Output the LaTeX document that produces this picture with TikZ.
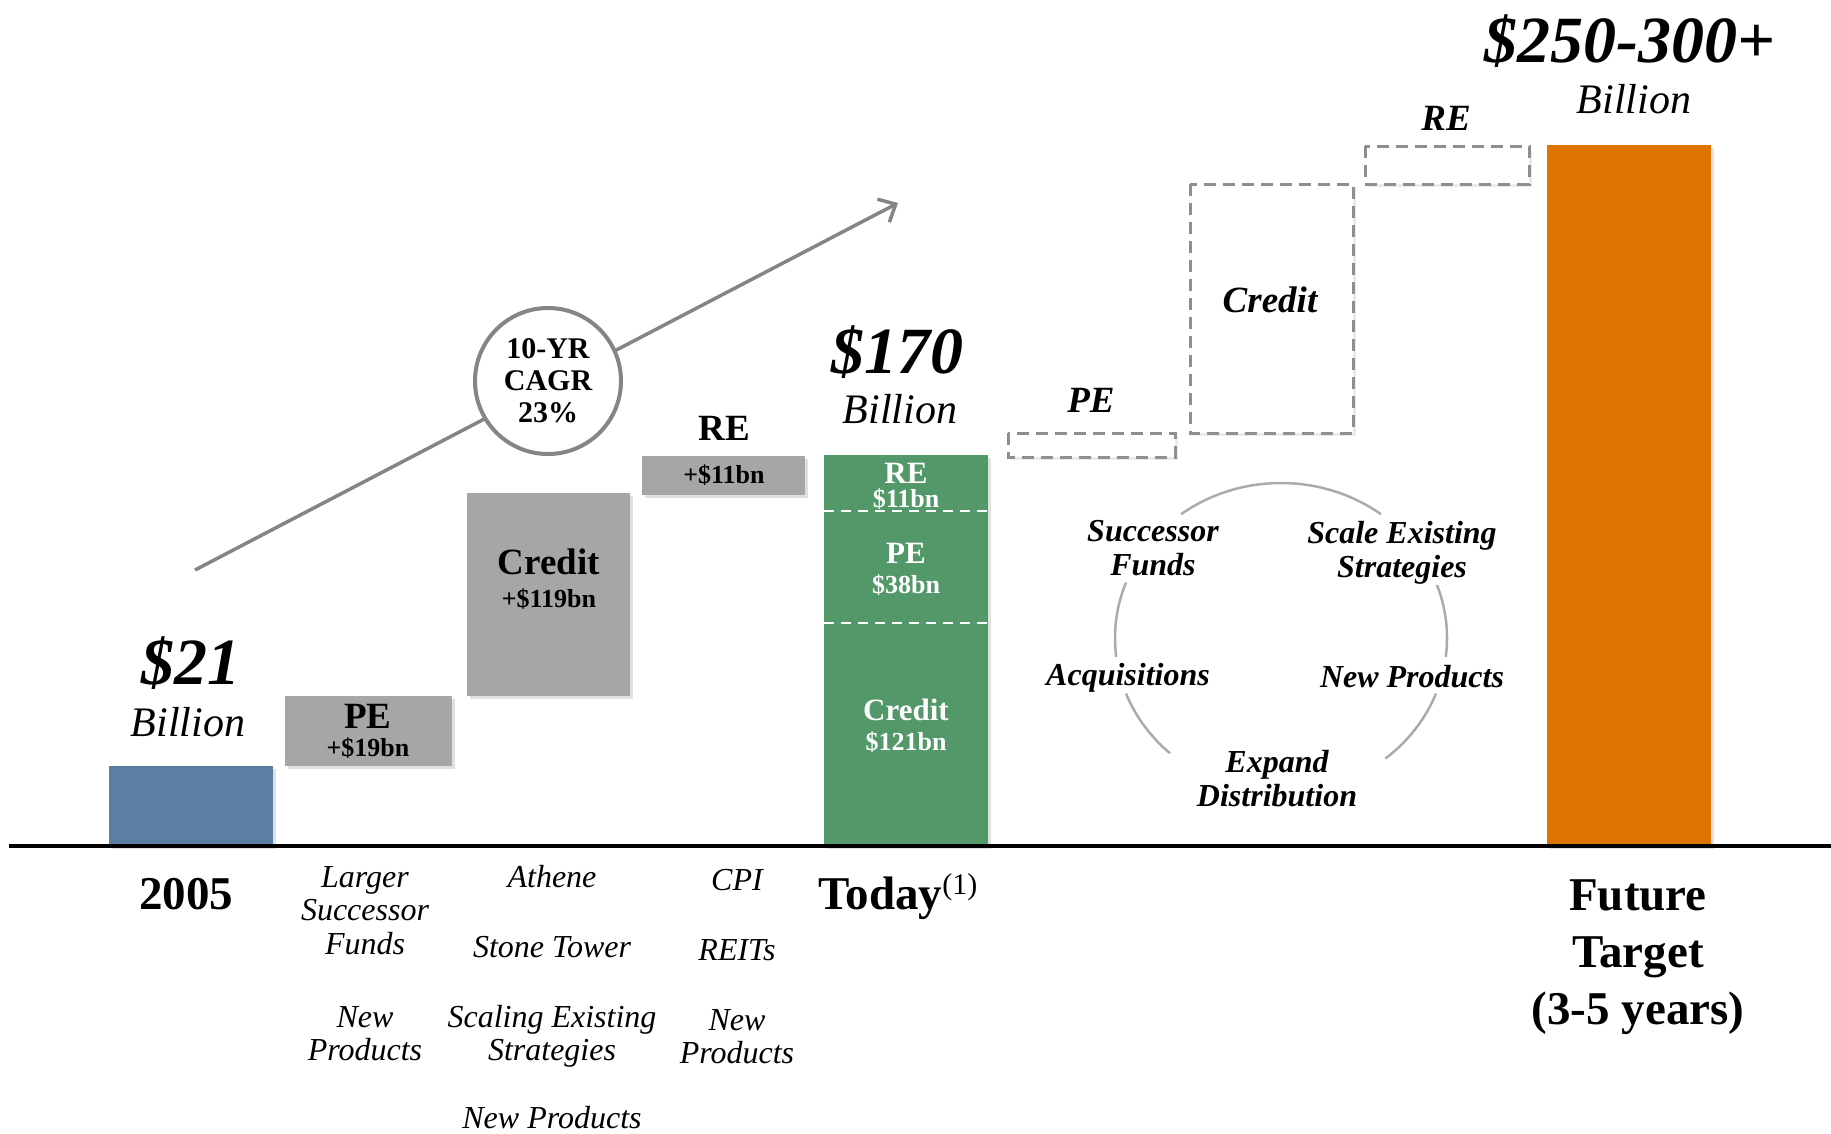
\documentclass[tikz,border=0pt]{standalone}
\usepackage{fontspec}
\setmainfont{Liberation Serif}
\usetikzlibrary{arrows.meta,shadows}
\definecolor{barblue}{HTML}{5B7FA3}
\definecolor{bargray}{HTML}{A6A6A6}
\definecolor{bargreen}{HTML}{529869}
\definecolor{barorange}{HTML}{DE7400}
\definecolor{linegray}{HTML}{858585}
\definecolor{dashgray}{HTML}{8E8E8E}
\definecolor{arcgray}{HTML}{ABABAB}
\newcommand\fsz[2]{\fontsize{#1}{#2}\selectfont}
\newcommand\mlines[1]{\begin{tabular}[t]{@{}c@{}}#1\end{tabular}}
\begin{document}
\begin{tikzpicture}[x=1pt,y=-1pt,
  txt/.style={inner sep=0pt,outer sep=0pt,anchor=base},
  bigval/.style={txt,font=\fsz{66}{70}\bfseries\itshape},
  billion/.style={txt,font=\fsz{42}{46}\itshape},
  axislbl/.style={txt,font=\fsz{47}{57}\bfseries},
  driver/.style={txt,font=\fsz{32}{33.5}\itshape},
  cyclbl/.style={txt,font=\fsz{32}{34}\bfseries\itshape},
  boxtitle/.style={txt,font=\fsz{37}{40}\bfseries},
  boxval/.style={txt,font=\fsz{26}{28}\bfseries},
  greenlbl/.style={txt,font=\fsz{31}{33}\bfseries,text=white},
  greenval/.style={txt,font=\fsz{26}{28}\bfseries,text=white},
  dashlbl/.style={txt,font=\fsz{37}{40}\bfseries\itshape},
  barshadow/.style={drop shadow={shadow xshift=3pt,shadow yshift=-3pt,opacity=0.12,fill=black}},
  ghost/.style={draw=dashgray,line width=3pt,dash pattern=on 12pt off 7pt,fill=white,
    drop shadow={shadow xshift=3pt,shadow yshift=-3pt,opacity=0.08,fill=black}},
  cycarc/.style={draw=arcgray,line width=2.5pt},
  arrline/.style={draw=linegray,line width=3.5pt},
]
\useasboundingbox (0,0) rectangle (1831,1133);

% ---------- growth arrow and CAGR circle ----------
\coordinate (arrS) at (195,570);
\coordinate (arrE) at (898,203);
\draw[arrline,-{Straight Barb[length=14pt,width=26pt,line width=3.5pt]}] (arrS) -- (arrE);
\node[circle,draw=linegray,line width=4pt,fill=white,minimum size=146pt,inner sep=0pt,
      align=center,font=\fsz{30}{32}\bfseries] (cagr) at (548,381) {10-YR\\CAGR\\23\%};

% ---------- bars ----------
\path[fill=barblue,barshadow] (109,766) rectangle (273,846);
\path[fill=bargray,barshadow] (285,696) rectangle (452,766);
\path[fill=bargray,barshadow] (467,493) rectangle (630,696);
\path[fill=bargray,barshadow] (642,456) rectangle (805,495);
\path[fill=bargreen,barshadow] (824,455) rectangle (988,846);
\draw[white,line width=2.5pt,dash pattern=on 10pt off 7pt] (824,511) -- (988,511);
\draw[white,line width=2.5pt,dash pattern=on 10pt off 7pt] (824,623) -- (988,623);
\path[ghost] (1008,433) rectangle (1175,457);
\path[ghost] (1190,184) rectangle (1353,433);
\path[ghost] (1365,146) rectangle (1529,184);
\path[fill=barorange,barshadow] (1547,145) rectangle (1711,846);

% ---------- axis ----------
\draw[line width=4pt] (9,846) -- (1831,846);

% ---------- values ----------
\node[bigval] (v21) at (191,684) {\$21};
\node[billion] (b21) at (188,736) {Billion};
\node[bigval] (v170) at (897,373) {\$170};
\node[billion] (b170) at (900,423) {Billion};
\node[bigval] (vfut) at (1630,62) {\$250-300+};
\node[billion] (bfut) at (1634,113) {Billion};

% ---------- gray step labels ----------
\node[boxtitle] (pet) at (368,728) {PE};
\node[boxval] (pev) at (368,756) {+\$19bn};
\node[boxtitle] (crt) at (549,574) {Credit};
\node[boxval] (crv) at (549,607) {+\$119bn};
\node[boxtitle] (ret) at (724,440) {RE};
\node[boxval] (rev) at (724,483) {+\$11bn};

% ---------- green bar labels ----------
\node[greenlbl] (gre) at (906,483) {RE};
\node[greenval] (grev) at (906,507) {\$11bn};
\node[greenlbl] (gpe) at (906,563) {PE};
\node[greenval] (gpev) at (906,593) {\$38bn};
\node[greenlbl] (gcr) at (906,720) {Credit};
\node[greenval] (gcrv) at (906,750) {\$121bn};

% ---------- future step labels ----------
\node[dashlbl] (fpe) at (1091,412) {PE};
\node[dashlbl] (fcr) at (1270,312) {Credit};
\node[dashlbl] (fre) at (1446,130) {RE};

% ---------- growth cycle ----------
\draw[cycarc] ([shift={(1281,638)}]-53:166 and 155) arc[start angle=-53,end angle=-127,x radius=166,y radius=155];
\draw[cycarc] ([shift={(1281,638)}]-159:166 and 155) arc[start angle=-159,end angle=-187,x radius=166,y radius=155];
\draw[cycarc] ([shift={(1281,638)}]-201:166 and 155) arc[start angle=-201,end angle=-228,x radius=166,y radius=155];
\draw[cycarc] ([shift={(1281,638)}]7:166 and 155) arc[start angle=7,end angle=-20,x radius=166,y radius=155];
\draw[cycarc] ([shift={(1281,638)}]51:166 and 155) arc[start angle=51,end angle=21,x radius=166,y radius=155];
\node[cyclbl] (succ) at (1153,541) {\mlines{Successor\\Funds}};
\node[cyclbl] (scal) at (1402,543) {\mlines{Scale Existing\\Strategies}};
\node[cyclbl] (acq) at (1128,685) {Acquisitions};
\node[cyclbl] (newp) at (1412,687) {New Products};
\node[cyclbl] (expd) at (1277,772) {\mlines{Expand\\Distribution}};

% ---------- axis labels ----------
\node[axislbl] (y2005) at (186,909) {2005};
\node[driver] (d1) at (365,887) {\mlines{Larger\\Successor\\Funds}};
\node[driver] (d2) at (365,1027) {\mlines{New\\Products}};
\node[driver] (d3) at (552,887) {Athene};
\node[driver] (d4) at (552,957) {Stone Tower};
\node[driver] (d5) at (552,1027) {\mlines{Scaling Existing\\Strategies}};
\node[driver] (d6) at (552,1128) {New Products};
\node[driver] (d7) at (737,890) {CPI};
\node[driver] (d8) at (737,960) {REITs};
\node[driver] (d9) at (737,1030) {\mlines{New\\Products}};
\node[axislbl] (today) at (898,909) {Today\raisebox{15pt}{\fsz{30}{30}\mdseries(1)}};
\node[axislbl] (future) at (1638,910) {\mlines{Future\\Target\\(3-5 years)}};
\end{tikzpicture}
\end{document}
